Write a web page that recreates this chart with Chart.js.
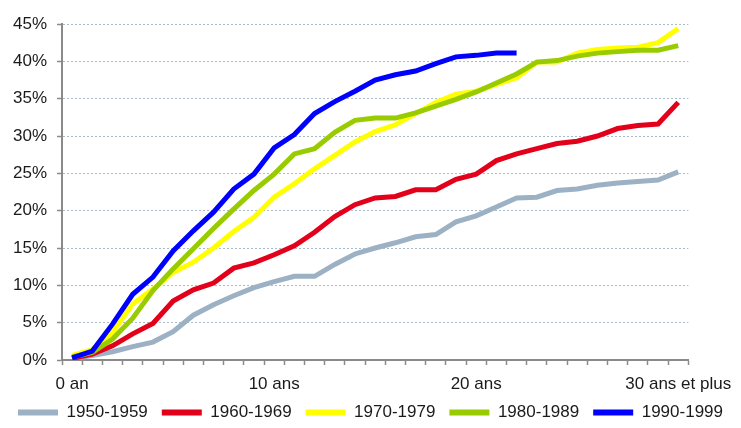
<!DOCTYPE html>
<html>
<head>
<meta charset="utf-8">
<script src="https://cdn.jsdelivr.net/npm/chart.js@4/dist/chart.umd.min.js"></script>
<style>
html,body{margin:0;padding:0;background:#fff;}
#wrap{width:741px;height:428px;position:relative;}
</style>
</head>
<body>
<div id="wrap"><canvas id="c"></canvas></div>
<script>
const categories = ['0 an','1 an','2 ans','3 ans','4 ans','5 ans','6 ans','7 ans','8 ans','9 ans',
  '10 ans','11 ans','12 ans','13 ans','14 ans','15 ans','16 ans','17 ans','18 ans','19 ans',
  '20 ans','21 ans','22 ans','23 ans','24 ans','25 ans','26 ans','27 ans','28 ans','29 ans','30 ans et plus'];
const shownTicks = ['0 an','10 ans','20 ans','30 ans et plus'];
const yTicks = [0,5,10,15,20,25,30,35,40,45];

const s1950 = [0.2,0.6,1.1,1.8,2.4,3.8,6.0,7.4,8.6,9.7,10.5,11.2,11.2,12.8,14.2,15.0,15.7,16.5,16.8,18.5,19.3,20.5,21.7,21.8,22.7,22.9,23.4,23.7,23.9,24.1,25.2];
const s1960 = [0.2,0.8,1.9,3.5,4.9,7.9,9.4,10.3,12.3,13.0,14.1,15.3,17.1,19.2,20.8,21.7,21.9,22.8,22.8,24.2,24.9,26.7,27.6,28.3,29.0,29.3,30.0,31.0,31.4,31.6,34.5];
const s1970 = [0.6,1.4,3.7,7.5,9.5,11.7,13.1,15.0,17.2,19.1,21.8,23.6,25.6,27.4,29.2,30.6,31.5,33.0,34.5,35.6,36.0,36.9,37.8,39.9,39.9,41.1,41.6,41.8,41.9,42.5,44.4];
const s1980 = [0.4,1.0,2.8,5.6,9.3,12.2,14.9,17.6,20.2,22.7,24.9,27.6,28.3,30.5,32.1,32.4,32.4,33.1,34.0,34.9,35.9,37.1,38.3,39.9,40.1,40.7,41.1,41.3,41.5,41.5,42.1];
const s1990 = [0.3,1.2,4.8,8.8,11.1,14.6,17.3,19.8,22.9,24.9,28.4,30.2,33.0,34.6,36.0,37.5,38.2,38.7,39.7,40.6,40.8,41.1,41.1];

const seriesNames = ['1950-1959','1960-1969','1970-1979','1980-1989','1990-1999'];
const seriesData = [s1950,s1960,s1970,s1980,s1990];
const seriesColors = ['#9db1c4','#e3001b','#ffff00','#99cc00','#0000ff'];

const FONT = "'Liberation Sans', Arial, sans-serif";
const AXIS = '#8a8a8a';

const datasets = seriesNames.map((name,i) => ({
  label: name,
  data: seriesData[i],
  borderColor: seriesColors[i],
  backgroundColor: seriesColors[i],
  borderWidth: 5,
  pointRadius: 0,
  tension: 0,
  fill: false,
  borderCapStyle: 'butt',
  borderJoinStyle: 'miter',
  order: seriesNames.length - i
}));

const legendFit = {
  id: 'legendFit',
  beforeUpdate(chart) {
    const lg = chart.legend;
    if (lg && !lg._patched) {
      const f = lg.fit;
      lg.fit = function() { f.call(this); this.height = 38; };
      lg._patched = true;
    }
  }
};

new Chart(document.getElementById('c'), {
  type: 'line',
  data: { labels: categories, datasets },
  plugins: [legendFit],
  options: {
    responsive: true,
    maintainAspectRatio: false,
    devicePixelRatio: 1,
    animation: false,
    layout: { padding: { left: 0, right: 0, top: 24, bottom: 0 } },
    plugins: {
      tooltip: { enabled: false },
      legend: {
        position: 'bottom',
        labels: {
          boxWidth: 40,
          boxHeight: 6,
          padding: 14,
          color: '#1a1a1a',
          font: { family: FONT, size: 17 },
          sort: (a,b) => a.datasetIndex - b.datasetIndex,
          generateLabels(chart) {
            const items = Chart.defaults.plugins.legend.labels.generateLabels(chart);
            items.forEach(it => { it.lineWidth = 0; it.fillStyle = seriesColors[it.datasetIndex]; });
            return items;
          }
        }
      }
    },
    scales: {
      x: {
        type: 'category',
        offset: true,
        grid: { display: true, offset: true, drawOnChartArea: false, drawTicks: true, tickLength: 5, tickColor: AXIS, tickWidth: 1.5 },
        border: { display: true, color: AXIS, width: 2 },
        ticks: {
          autoSkip: false, maxRotation: 0, minRotation: 0, padding: 9,
          color: '#1a1a1a', font: { family: FONT, size: 17 },
          callback: function(v, idx) { const l = categories[idx]; return shownTicks.includes(l) ? l : ''; }
        },
        afterFit(scale) { scale.height = 30; scale._computeLabelArea = () => undefined; }
      },
      y: {
        min: 0, max: 45,
        afterBuildTicks(scale) { scale.ticks = yTicks.map(v => ({ value: v })); },
        grid: { color: '#a9bccd', lineWidth: 1, drawTicks: true, tickLength: 5, tickColor: AXIS, tickWidth: 1.5, tickBorderDash: [] },
        border: { display: true, color: AXIS, width: 2, dash: [2, 2] },
        ticks: { padding: 10, color: '#1a1a1a', font: { family: FONT, size: 17 }, callback: v => v + '%' },
        afterFit(scale) { scale.width = 62; }
      },
      spacer: {
        position: 'right',
        display: true,
        grid: { display: false, drawTicks: false },
        border: { display: false },
        ticks: { display: false },
        afterFit(scale) { scale.width = 52; }
      }
    }
  }
});
</script>
</body>
</html>
